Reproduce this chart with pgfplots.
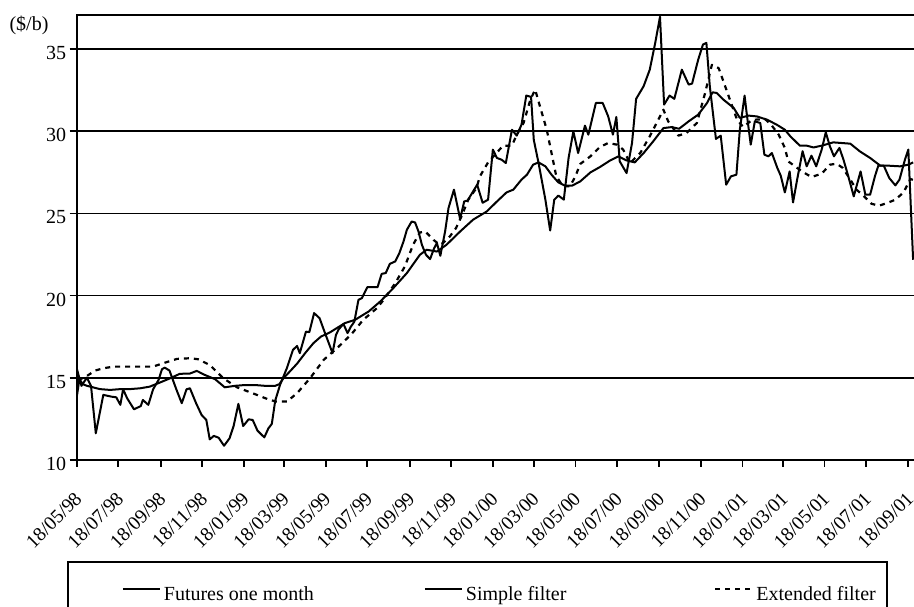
\documentclass[border=0pt]{standalone}
\usepackage{fontspec}
\setmainfont{Liberation Serif}
\usepackage{pgfplots}
\pgfplotsset{compat=1.18}
\begin{document}
\begin{tikzpicture}[font=\fontsize{20}{24}\selectfont]
\useasboundingbox (-76.7pt,-146.3pt) rectangle (837.3pt,459.7pt);
\begin{axis}[
  scale only axis, width=840.5pt, height=444.4pt,
  xmin=0, xmax=1232, ymin=10, ymax=37.07,
  axis line style={line width=2pt},
  tick align=outside, major tick length=7pt,
  every tick/.style={black, line width=1.8pt},
  xtick pos=lower, ytick pos=left,
  ytick={10,15,20,25,30,35},
  ymajorgrids, major grid style={black, line width=1.8pt},
  xtick={0,61,123,184,245,304,365,426,488,549,610,670,731,792,854,915,976,1035,1096,1157,1219},
  xticklabels={18/05/98,18/07/98,18/09/98,18/11/98,18/01/99,18/03/99,18/05/99,18/07/99,18/09/99,18/11/99,18/01/00,18/03/00,18/05/00,18/07/00,18/09/00,18/11/00,18/01/01,18/03/01,18/05/01,18/07/01,18/09/01},
  xticklabel style={yshift=-24pt, xshift=-3pt, rotate=45, anchor=north east, inner sep=0pt, font=\fontsize{19.5}{23}\selectfont},
  yticklabel style={yshift=-4pt, font=\fontsize{20}{24}\selectfont},
  /pgf/number format/assume math mode=true,
  ylabel={(\$/b)},
  ylabel style={rotate=-90, at={(rel axis cs:0,1)}, anchor=center, xshift=-47.7pt, yshift=-10pt, font=\fontsize{20}{24}\selectfont},
  legend columns=3, legend cell align=left,
  legend image code/.code={\draw[#1] (0pt,5pt) -- (36.6pt,5pt);},
  legend style={at={(0.05354,-0.2842)}, anchor=north west, draw=none, fill=none,
    inner sep=0pt, nodes={inner sep=0pt}, font=\fontsize{20}{24}\selectfont,
    /tikz/every odd column/.style={column sep=3.4pt},
    /tikz/every even column/.style={column sep=0pt}},
]
\addplot[black, line width=2pt, line join=round] coordinates {
(0,15.57)(7,14.50)(15,15.00)(21,14.49)(28,11.61)(39,13.95)(51,13.84)(58,13.80)(64,13.34)(68,14.29)
(74,13.74)(84,13.07)(94,13.27)(97,13.64)(105,13.34)(112,14.29)(120,14.86)(125,15.51)(129,15.61)(136,15.43)
(146,14.29)(154,13.44)(161,14.29)(166,14.35)(175,13.44)(183,12.73)(190,12.42)(195,11.24)(201,11.45)(208,11.34)
(216,10.85)(224,11.30)(230,12.05)(237,13.40)(244,12.05)(252,12.46)(258,12.42)(265,11.77)(275,11.36)(281,11.91)
(286,12.18)(291,13.60)(298,14.55)(308,15.57)(317,16.69)(323,16.93)(327,16.49)(336,17.80)(341,17.77)(348,18.93)
(356,18.62)(364,17.71)(375,16.49)(380,17.60)(384,17.94)(391,18.27)(397,17.71)(402,18.11)(407,18.41)(413,19.74)
(418,19.84)(426,20.51)(441,20.51)(447,21.32)(453,21.37)(459,21.93)(467,22.08)(473,22.59)(479,23.29)(484,24.01)
(491,24.51)(496,24.45)(501,23.90)(506,23.09)(512,22.48)(518,22.22)(524,22.89)(528,23.20)(533,22.42)(540,23.90)
(545,25.33)(553,26.45)(562,24.66)(568,25.73)(573,25.79)(581,26.34)(587,26.75)(595,25.65)(603,25.84)(610,28.89)
(616,28.38)(623,28.27)(629,28.07)(638,30.10)(645,29.74)(652,30.41)(659,32.18)(666,32.10)(670,29.48)(677,28.07)
(687,25.84)(694,23.96)(700,25.84)(706,26.09)(714,25.84)(721,28.38)(728,30.00)(735,28.68)(745,30.35)(750,29.80)
(761,31.73)(771,31.73)(779,30.92)(786,29.80)(791,30.88)(796,28.17)(806,27.46)(814,29.29)(820,31.98)(831,32.75)
(840,33.76)(848,35.39)(855,36.98)(861,31.63)(869,32.18)(876,31.98)(887,33.76)(897,32.85)(902,32.91)(911,34.37)
(918,35.29)(923,35.39)(928,32.75)(937,29.54)(944,29.74)(952,26.75)(959,27.26)(967,27.36)(972,30.10)(979,32.18)
(982,31.12)(988,29.19)(994,30.61)(1002,30.51)(1008,28.58)(1014,28.48)(1019,28.68)(1027,27.77)(1032,27.30)(1038,26.28)
(1045,27.56)(1050,25.67)(1056,27.06)(1064,28.79)(1070,27.87)(1077,28.52)(1084,27.87)(1092,28.89)(1098,29.94)(1104,29.09)
(1110,28.48)(1118,28.99)(1124,28.27)(1131,27.26)(1139,26.04)(1149,27.56)(1156,26.14)(1163,26.14)(1170,27.26)(1175,27.91)
(1183,27.91)(1191,27.16)(1200,26.71)(1206,27.06)(1214,28.27)(1219,28.89)(1226,22.18)
};
\addlegendentry{\makebox[260pt][l]{Futures one month}}
\addplot[black, line width=2pt, line join=round] coordinates {
(0,13.80)(4,14.90)(9,14.60)(15,14.50)(20,14.45)(34,14.30)(49,14.25)(64,14.30)(78,14.30)(93,14.35)
(107,14.45)(122,14.70)(137,14.96)(151,15.23)(166,15.25)(176,15.41)(188,15.16)(203,14.90)(217,14.41)(232,14.50)
(247,14.55)(261,14.55)(276,14.50)(291,14.50)(297,14.60)(303,14.96)(313,15.40)(323,15.85)(335,16.50)(347,17.10)
(358,17.50)(371,17.75)(393,18.32)(408,18.52)(428,19.03)(445,19.64)(464,20.45)(484,21.37)(503,22.48)(513,22.79)
(528,22.68)(542,23.09)(562,23.90)(581,24.62)(601,25.12)(616,25.73)(630,26.28)(640,26.45)(652,27.06)(660,27.36)
(669,27.97)(677,28.11)(687,27.87)(696,27.36)(706,26.89)(716,26.69)(726,26.69)(738,26.95)(753,27.50)(767,27.83)
(782,28.23)(794,28.48)(806,28.23)(818,28.11)(831,28.68)(845,29.39)(860,30.20)(872,30.26)(883,30.16)(897,30.61)
(911,31.02)(924,31.73)(932,32.38)(938,32.34)(948,31.93)(963,31.43)(972,30.82)(985,30.96)(997,30.91)(1012,30.71)
(1026,30.41)(1038,30.10)(1046,29.70)(1060,29.13)(1070,29.13)(1080,29.02)(1092,29.13)(1109,29.33)(1134,29.25)(1148,28.78)
(1163,28.38)(1178,27.91)(1190,27.91)(1207,27.87)(1219,27.97)(1226,28.11)
};
\addlegendentry{\makebox[248.3pt][l]{Simple filter}}
\addplot[black, line width=2.2pt, dash pattern=on 5pt off 5pt, line join=round] coordinates {
(2,14.86)(12,15.02)(27,15.43)(39,15.57)(54,15.67)(78,15.67)(112,15.67)(127,15.88)(147,16.14)(166,16.18)
(178,16.12)(195,15.77)(215,14.96)(235,14.41)(264,13.95)(283,13.64)(293,13.54)(308,13.54)(323,14.05)(342,14.96)
(362,16.08)(384,16.89)(403,17.66)(420,18.52)(440,19.23)(450,19.74)(467,20.76)(481,21.77)(493,23.09)(503,23.84)
(511,23.90)(523,23.39)(532,23.09)(537,23.20)(547,23.60)(556,24.11)(564,24.82)(574,25.84)(586,26.55)(591,27.26)
(603,28.11)(625,29.13)(638,29.13)(645,29.80)(655,30.51)(665,31.93)(672,32.54)(679,31.53)(689,30.10)(696,28.68)
(703,27.26)(713,26.65)(723,26.65)(731,27.26)(738,28.01)(753,28.48)(767,29.05)(779,29.29)(792,29.19)(801,28.89)
(811,28.07)(826,28.68)(840,29.70)(850,30.51)(860,31.32)(867,30.61)(882,29.74)(894,29.90)(909,30.51)(921,32.32)
(931,34.05)(941,33.85)(948,33.04)(955,32.22)(968,30.70)(977,30.27)(990,30.70)(1009,30.75)(1019,30.35)(1029,29.80)
(1038,28.99)(1043,28.17)(1053,27.87)(1063,27.56)(1077,27.22)(1092,27.42)(1104,27.97)(1114,28.03)(1123,27.77)(1134,27.06)
(1143,26.45)(1153,26.09)(1165,25.59)(1176,25.47)(1190,25.67)(1200,25.84)(1212,26.28)(1222,27.10)(1228,27.01)
};
\addlegendentry{Extended filter}
\end{axis}
\draw[line width=1.4pt] (-8.7pt,-160pt) -- (-8.7pt,-102.3pt) -- (810.3pt,-102.3pt) -- (810.3pt,-160pt);
\end{tikzpicture}
\end{document}
